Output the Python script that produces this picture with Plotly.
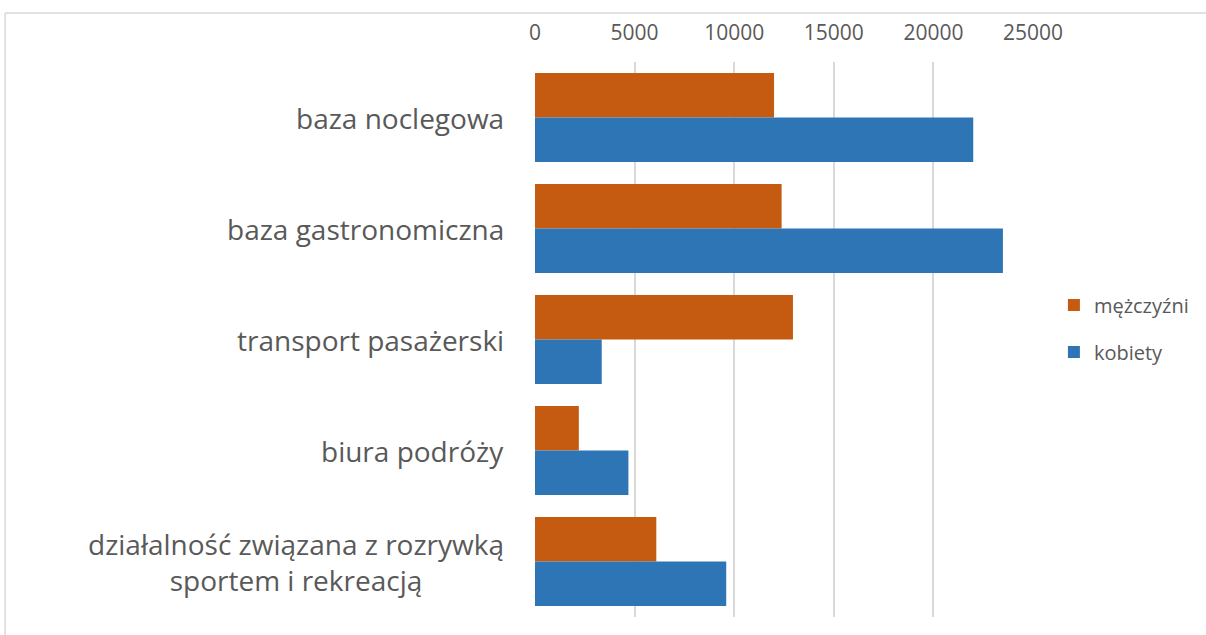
import plotly.graph_objects as go

categories = ["baza noclegowa", "baza gastronomiczna", "transport pasażerski",
              "biura podróży", "działalność związana z rozrywką<br>sportem i rekreacją"]
men = [12000, 12380, 12950, 2200, 6090]
women = [22000, 23490, 3350, 4690, 9600]
series_names = ["mężczyźni", "kobiety"]
x_ticks = [0, 5000, 10000, 15000, 20000, 25000]

FONT = "Open Sans"
GRAY = "#595959"

fig = go.Figure()
fig.add_trace(go.Bar(y=categories, x=men, name=series_names[0], orientation="h",
                     legendgroup="m", marker=dict(color="#C55A11", line=dict(width=0))))
fig.add_trace(go.Bar(y=categories, x=women, name=series_names[1], orientation="h",
                     legendgroup="k", marker=dict(color="#2E75B6", line=dict(width=0))))

for c in categories:
    fig.add_annotation(x=-0.058, xref="paper", y=c, yref="y", text=c,
                       showarrow=False, xanchor="right", yanchor="middle", align="center",
                       font=dict(family=FONT, size=28, color=GRAY))

fig.update_layout(
    width=1206, height=635,
    margin=dict(l=535, r=171, t=62, b=18),
    paper_bgcolor="white", plot_bgcolor="white",
    barmode="group", bargap=0.2, bargroupgap=0,
    font=dict(family=FONT, color=GRAY),
    xaxis=dict(side="top", range=[0, 25000], tickvals=x_ticks, ticktext=[str(v) for v in x_ticks],
               showgrid=True, gridcolor="#D9D9D9", gridwidth=1.5, zeroline=False,
               showline=False, ticks="", ticklabelstandoff=17,
               tickfont=dict(family=FONT, size=21, color=GRAY)),
    yaxis=dict(autorange="reversed", showticklabels=False, showgrid=False, zeroline=False,
               showline=False, ticks=""),
    legend=dict(x=1.042, y=0.52, xanchor="left", yanchor="middle", traceorder="grouped",
                font=dict(family=FONT, size=20, color=GRAY), itemwidth=30,
                tracegroupgap=18, bgcolor="rgba(0,0,0,0)"),
    shapes=[
        dict(type="line", xref="paper", yref="paper", x0=-1.064, x1=1.4, y0=1.0883, y1=1.0883,
             line=dict(color="#D9D9D9", width=1.5)),
        dict(type="line", xref="paper", yref="paper", x0=-1.064, x1=-1.064, y0=1.0883, y1=-0.1,
             line=dict(color="#D9D9D9", width=1.5)),
    ],
)

fig.write_html("out.html", config={"displayModeBar": False},
               post_script="document.body.style.margin='0';document.body.style.overflow='hidden';")
